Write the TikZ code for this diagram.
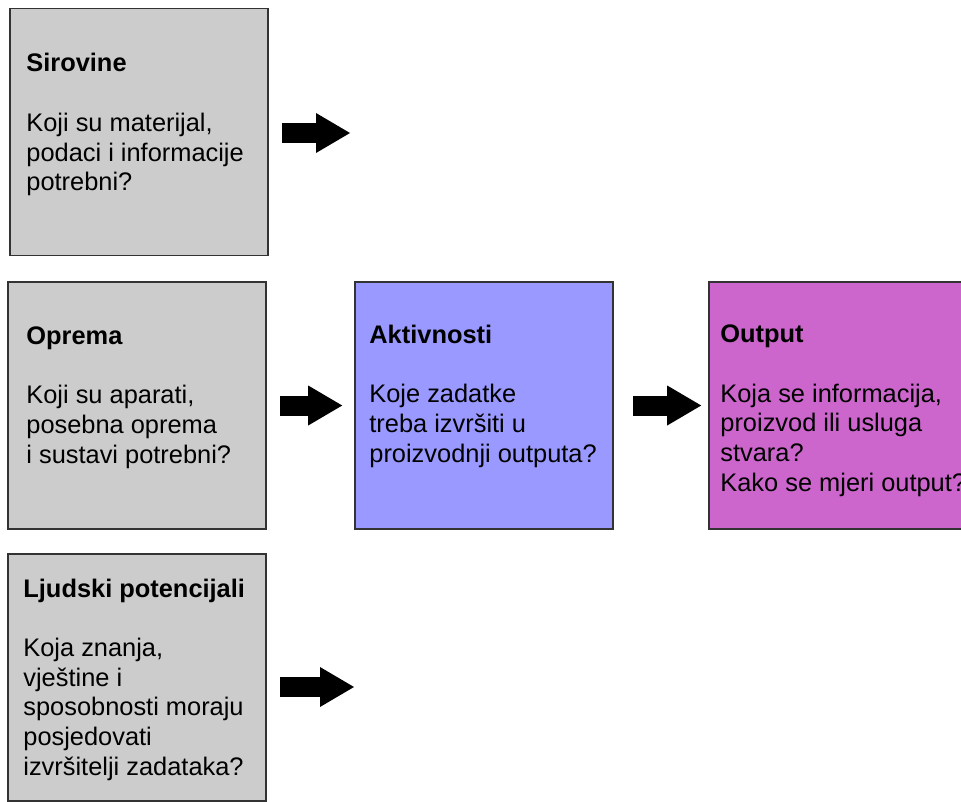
\documentclass[tikz,border=0pt]{standalone}
\usepackage{fontspec}
\setmainfont{Liberation Sans}
\usetikzlibrary{positioning}
\usetikzlibrary{calc}
\usetikzlibrary{arrows.meta}
\definecolor{boxgray}{HTML}{CCCCCC}
\definecolor{actblue}{HTML}{9999FF}
\definecolor{outmagenta}{HTML}{CC66CC}
\tikzset{x=1pt, y=-1pt,
box/.style={ % Sets the properties for each box
draw=black!80,
line width=1.6pt,
fill=boxgray,
inner sep=0pt,
minimum width=258pt,
minimum height=247pt},
boxtext/.style={ % Title and question inside a box (placed by its last line)
anchor=base west,
align=left,
inner sep=0pt,
font=\fontsize{25.4}{29.7}\selectfont},
bigarrow/.style={ % Thick black block arrows
draw=black,
line width=20pt,
-{Triangle[length=34pt, width=40pt, line width=0pt]}}}

\begin{document}
\begin{tikzpicture}
\clip (0,0) rectangle (961,801);
\node[box] (siro) at (139,132) {};
\node[box] (oprema) at (137,405.5) {};
\node[box] (ljud) at (137,677.5) {};
\node[box, fill=actblue] (akt) at (484,405.5) {};
\node[box, fill=outmagenta] (out) at (838,405.5) {};

\node[boxtext] (siroTxt) at ($(siro.north west)+(17,183)$)
  {\textbf{Sirovine}\\[29.7pt]Koji su materijal,\\podaci i informacije\\potrebni?};
\node[boxtext] (opremaTxt) at ($(oprema.north west)+(19,182)$)
  {\textbf{Oprema}\\[29.7pt]Koji su aparati,\\posebna oprema\\i sustavi potrebni?};
\node[boxtext] (ljudTxt) at ($(ljud.north west)+(16,222)$)
  {\textbf{Ljudski potencijali}\\[29.7pt]Koja znanja,\\vještine i\\sposobnosti moraju\\posjedovati\\izvršitelji zadataka?};
\node[boxtext] (aktTxt) at ($(akt.north west)+(15,181)$)
  {\textbf{Aktivnosti}\\[29.7pt]Koje zadatke\\treba izvršiti u\\proizvodnji outputa?};
\node[boxtext] (outTxt) at ($(out.north west)+(12,210)$)
  {\textbf{Output}\\[29.7pt]Koja se informacija,\\proizvod ili usluga\\stvara?\\Kako se mjeri output?};

\coordinate (siroEnd) at (350,133);
\coordinate (ljudEnd) at (354,687);
\draw[bigarrow, shorten <=13pt] (siro.east |- siroEnd) -- (siroEnd);
\draw[bigarrow, shorten <=13pt, shorten >=12pt] (oprema) -- (akt);
\draw[bigarrow, shorten <=19pt, shorten >=7pt] (akt) -- (out);
\draw[bigarrow, shorten <=13pt] (ljud.east |- ljudEnd) -- (ljudEnd);
\end{tikzpicture}
\end{document}
